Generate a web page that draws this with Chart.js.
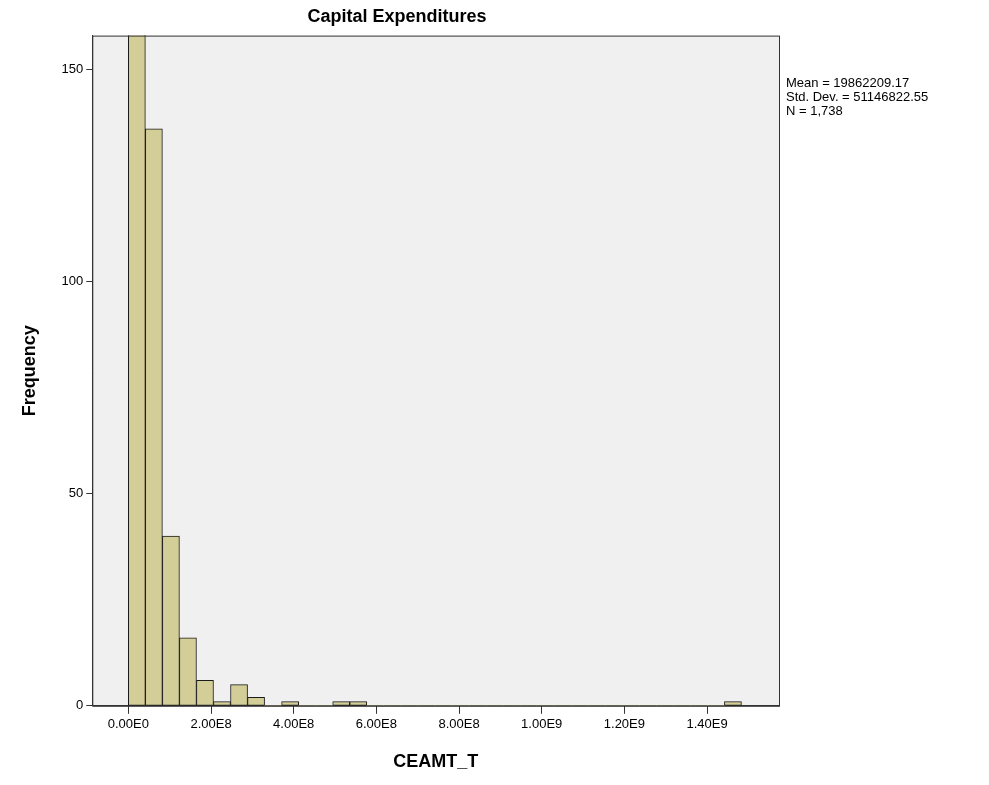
<!DOCTYPE html>
<html>
<head>
<meta charset="UTF-8">
<script src="https://cdn.jsdelivr.net/npm/chart.js"></script>
<style>
  body { margin: 0; background: #fff; font-family: Arial, 'Liberation Sans', sans-serif; }
  .wrap { position: relative; width: 989px; height: 785px; }
  .stats { position: absolute; left: 786px; top: 76px; font-size: 13px; line-height: 14px; color: #000; }
</style>
</head>
<body>
<div class="wrap">
  <canvas id="c" width="989" height="785"></canvas>
  <div class="stats">Mean = 19862209.17<br>Std. Dev. = 51146822.55<br>N = 1,738</div>
</div>
<script>
const binWidth = 4.12e7;
// frequency per bin, starting at 0
const counts = [1528, 136, 40, 16, 6, 1, 5, 2, 0, 1, 0, 0, 1, 1, 0, 0, 0, 0, 0, 0,
                0, 0, 0, 0, 0, 0, 0, 0, 0, 0, 0, 0, 0, 0, 0, 1];
const yTicks = [0, 50, 100, 150];
const xTicks = [0, 2e8, 4e8, 6e8, 8e8, 1e9, 1.2e9, 1.4e9];

const points = counts.map((c, i) => ({ x: (i + 0.5) * binWidth, y: c }));

const plotBg = {
  id: 'plotBg',
  beforeDraw(chart) {
    const { ctx, chartArea: a } = chart;
    ctx.save();
    ctx.fillStyle = '#f0f0f0';
    ctx.fillRect(a.left, a.top, a.right - a.left, a.bottom - a.top);
    ctx.restore();
  },
  afterDraw(chart) {
    const { ctx, chartArea: a } = chart;
    ctx.save();
    ctx.strokeStyle = '#333';
    ctx.lineWidth = 1;
    ctx.strokeRect(a.left + 0.5, a.top + 0.5, a.right - a.left, a.bottom - a.top);
    ctx.restore();
  }
};

const font13 = { size: 13, family: 'Arial, Liberation Sans' };
const font18 = { size: 18, weight: 'bold', family: 'Arial, Liberation Sans' };

new Chart(document.getElementById('c'), {
  type: 'bar',
  data: {
    datasets: [{
      data: points,
      backgroundColor: '#d3ce97',
      borderColor: '#1a1a1a',
      borderWidth: ctx => (ctx.raw && ctx.raw.y > 0 ? 1 : 0),
      borderSkipped: false,
      barPercentage: 1,
      categoryPercentage: 1
    }]
  },
  plugins: [plotBg],
  options: {
    responsive: false,
    animation: false,
    layout: { padding: { left: 15, right: 210, top: 6, bottom: 8 } },
    plugins: {
      legend: { display: false },
      tooltip: { enabled: false },
      title: {
        display: true, text: 'Capital Expenditures', color: '#000',
        font: font18, padding: { top: 0, bottom: 8 }
      }
    },
    scales: {
      x: {
        type: 'linear', min: -0.872e8, max: 1.574e9, offset: false,
        grid: { display: true, offset: false, drawOnChartArea: false, tickLength: 8, color: '#333' },
        border: { color: '#333' },
        afterBuildTicks: axis => { axis.ticks = xTicks.map(v => ({ value: v })); },
        ticks: {
          color: '#000', font: font13, maxRotation: 0,
          callback: v => {
            if (v === 0) return '0.00E0';
            const e = Math.floor(Math.log10(v));
            return (v / Math.pow(10, e)).toFixed(2) + 'E' + e;
          }
        },
        title: { display: true, text: 'CEAMT_T', color: '#000', font: font18, padding: { top: 16 } }
      },
      y: {
        min: 0, max: 158,
        grid: { display: true, drawOnChartArea: false, tickLength: 6, color: '#333' },
        border: { color: '#333' },
        afterBuildTicks: axis => { axis.ticks = yTicks.map(v => ({ value: v })); },
        ticks: { color: '#000', font: font13, padding: 3 },
        title: { display: true, text: 'Frequency', color: '#000', font: font18, padding: { bottom: 18 } }
      }
    }
  }
});
</script>
</body>
</html>
